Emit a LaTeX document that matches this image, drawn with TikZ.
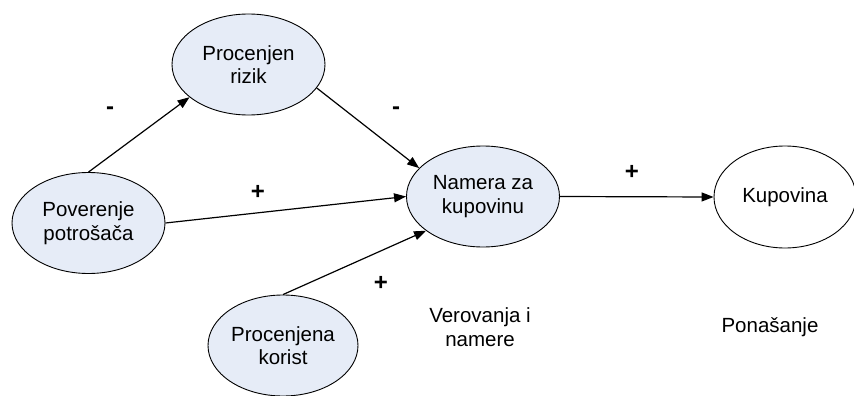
\documentclass[tikz,border=0pt]{standalone}
\usepackage{fontspec}
\setmainfont{Liberation Sans}
\usetikzlibrary{shapes.geometric,arrows.meta}
\definecolor{bubble}{RGB}{230,236,247}
\begin{document}
\begin{tikzpicture}[x=1pt,y=-1pt,
  concept/.style={ellipse,draw=black,line width=0.9pt,fill=bubble,inner sep=0pt,
    minimum width=153pt,minimum height=101pt,align=center,
    font=\fontsize{20.5}{23.5}\selectfont},
  outcome/.style={concept,fill=white,minimum width=142pt,minimum height=102pt},
  link/.style={line width=1.2pt,-{Triangle[length=12pt,width=9pt]}},
  sign/.style={font=\fontsize{24}{26}\selectfont\bfseries},
  caption/.style={align=center,font=\fontsize{20.5}{23.5}\selectfont}]
\useasboundingbox (0,0) rectangle (854,396);

\node[concept] (trust)   at (88.5,223)   {Poverenje\\potrošača};
\node[concept] (risk)    at (248.5,64.5) {Procenjen\\rizik};
\node[concept] (intent)  at (483,196.5)  {Namera za\\kupovinu};
\node[concept,minimum width=150pt] (benefit) at (283,345.5) {Procenjena\\korist};
\node[outcome] (buy)     at (785,197)  {Kupovina};

\draw[link] (trust.north) -- (risk.209);
\draw[link] (risk.-19) -- (intent.156);
\draw[link] (trust.east) -- (intent.west);
\draw[link] (benefit.north) -- (intent.211);
\draw[link] (intent.east) -- (buy.west);

\node[sign] (s1) at (110,111) {-};
\node[sign] (s2) at (396,111) {-};
\node[sign] (s3) at (258,192) {+};
\node[sign] (s4) at (381,283) {+};
\node[sign] (s5) at (632,172) {+};

\node[caption] (beliefs)  at (480,327) {Verovanja i\\namere};
\node[caption] (behavior) at (770,327) {Ponašanje};
\end{tikzpicture}
\end{document}
